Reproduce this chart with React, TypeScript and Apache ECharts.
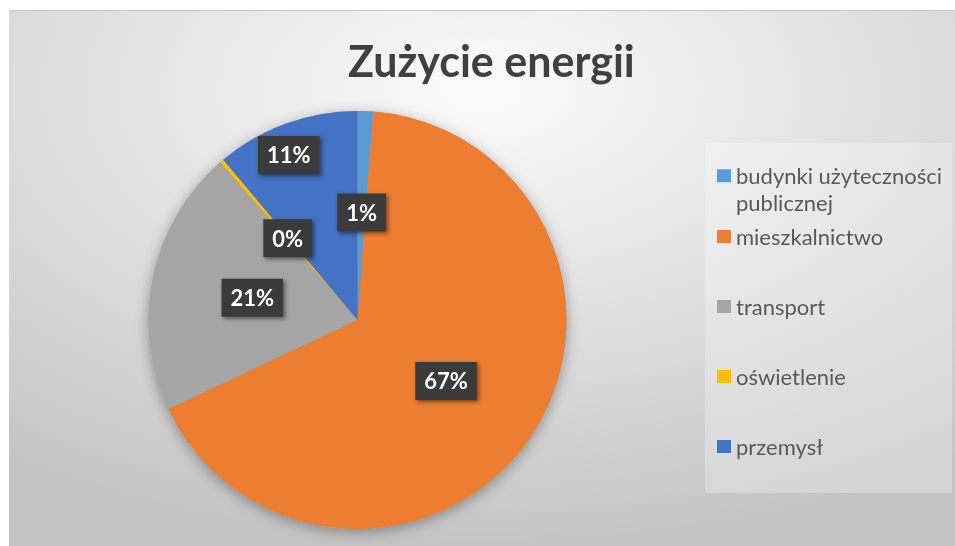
import React, { useEffect, useRef } from 'react';
import * as echarts from 'echarts';

const titleText = 'Zużycie energii';
const categories = [
  'budynki użyteczności publicznej',
  'mieszkalnictwo',
  'transport',
  'oświetlenie',
  'przemysł',
];
const values = [1.2, 66.8, 20.6, 0.3, 11.1];
const colors = ['#5B9BD5', '#ED7D31', '#A5A5A5', '#FFC000', '#4472C4'];

export default function App() {
  const ref = useRef<HTMLDivElement>(null);
  useEffect(() => {
    const chart = echarts.init(ref.current!, null, { renderer: 'svg' });
    const data = categories.map((name, i) => ({
      name,
      value: values[i],
      itemStyle: { color: colors[i] },
    }));
    const shadowData = categories.map((name, i) => ({
      name,
      value: values[i],
      itemStyle: { color: '#9a9a9a' },
    }));
    const legendText = {
      fontFamily: 'Lato',
      fontSize: 22,
      color: '#595959',
      lineHeight: 24,
    };
    chart.setOption({
      animation: false,
      title: {
        text: titleText,
        left: 334,
        top: 24,
        textStyle: {
          fontFamily: 'Lato',
          fontWeight: 'bold',
          fontSize: 43,
          color: '#404040',
        },
      },
      legend: [
        {
          data: [categories[0]],
          orient: 'vertical',
          left: 708,
          top: 126,
          padding: 0,
          icon: 'rect',
          itemWidth: 14,
          itemHeight: 13,
          formatter: (n: string) => '\n' + n.replace('użyteczności ', 'użyteczności\n'),
          textStyle: { ...legendText, lineHeight: 26.5 },
        },
        {
          data: categories.slice(1),
          orient: 'vertical',
          left: 708,
          top: 214.5,
          padding: 0,
          itemGap: 46,
          icon: 'rect',
          itemWidth: 14,
          itemHeight: 13,
          textStyle: legendText,
        },
      ],
      graphic: [
        {
          type: 'rect',
          left: 0,
          top: 0,
          z: -10,
          silent: true,
          shape: { width: 946, height: 536 },
          style: {
            fill: new echarts.graphic.RadialGradient(0.5, 0.15, 0.85, [
              { offset: 0, color: '#fbfbfb' },
              { offset: 0.5, color: '#e0e0e0' },
              { offset: 1, color: '#c4c4c4' },
            ]),
          },
        },
        {
          type: 'rect',
          left: 0,
          top: 0,
          z: -9,
          silent: true,
          shape: { width: 946, height: 1 },
          style: { fill: '#c8c8c8' },
        },
        {
          type: 'rect',
          left: 696,
          top: 133,
          z: -8,
          silent: true,
          shape: { width: 247, height: 350 },
          style: { fill: 'rgba(255,255,255,0.28)' },
        },
      ],
      series: [
        {
          type: 'pie',
          name: titleText,
          center: [348.5, 310],
          radius: 209,
          z: 3,
          percentPrecision: 0,
          data,
          label: {
            show: true,
            position: 'inside',
            formatter: '{d}%',
            color: '#ffffff',
            fontFamily: 'Lato',
            fontWeight: 'bold',
            fontSize: 22,
            lineHeight: 24,
            backgroundColor: '#3b3b3b',
            padding: [7, 9],
            shadowBlur: 4,
            shadowColor: 'rgba(0,0,0,0.5)',
            shadowOffsetX: 2,
            shadowOffsetY: 2,
          },
          labelLine: { show: false },
          labelLayout: (p: any) => (p.dataIndex === 4 ? { dx: -32, dy: -64 } : {}),
          emphasis: { disabled: true },
        },
        {
          type: 'pie',
          name: 'shadow',
          silent: true,
          center: [348.5, 310],
          radius: 209,
          z: 2,
          data: shadowData,
          label: { show: false },
          labelLine: { show: false },
          itemStyle: {
            shadowBlur: 14,
            shadowColor: 'rgba(0,0,0,0.35)',
            shadowOffsetY: 3,
          },
          emphasis: { disabled: true },
        },
      ],
    });
    return () => chart.dispose();
  }, []);
  return (
    <div
      ref={ref}
      style={{ position: 'fixed', left: 9, top: 10, width: 946, height: 536 }}
    />
  );
}
